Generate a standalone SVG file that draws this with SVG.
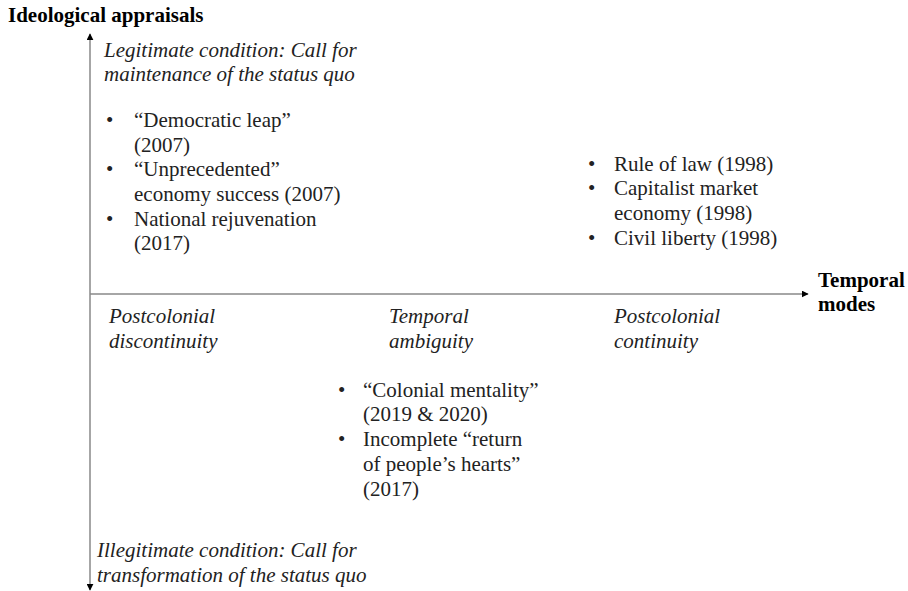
<svg xmlns="http://www.w3.org/2000/svg" width="908" height="591" viewBox="0 0 908 591">
<style>
text{font-family:'Liberation Serif','Times New Roman',serif;font-size:21px;fill:#222}
.b{font-weight:bold;fill:#000}
.i{font-style:italic}
.ax{stroke:#888;stroke-width:1.5;fill:none}
</style>
<defs>
<marker id="ah" viewBox="0 0 10 10" refX="9" refY="5" markerWidth="7" markerHeight="7" markerUnits="userSpaceOnUse" orient="auto">
<path d="M0,0 L10,5 L0,10 z" fill="#000"/>
</marker>
</defs>
<rect width="908" height="591" fill="#fff"/>
<g id="connectors">
<line class="ax" x1="90" y1="294" x2="90" y2="34" marker-end="url(#ah)"/>
<line class="ax" x1="90" y1="294" x2="90" y2="590" marker-end="url(#ah)"/>
<line class="ax" x1="90" y1="294" x2="808" y2="294" marker-end="url(#ah)"/>
</g>
<g id="y-axis-label"><text class="b" x="8" y="22">Ideological appraisals</text></g>
<g id="x-axis-label"><text class="b" x="818" y="287">Temporal</text><text class="b" x="818" y="311">modes</text></g>
<g id="legitimate"><text class="i" x="104" y="57">Legitimate condition: Call for</text><text class="i" x="104" y="81">maintenance of the status quo</text></g>
<g id="left-bullets">
<text x="106" y="127">•</text><text x="134" y="127">“Democratic leap”</text>
<text x="134" y="152">(2007)</text>
<text x="106" y="176">•</text><text x="134" y="176">“Unprecedented”</text>
<text x="134" y="201">economy success (2007)</text>
<text x="106" y="226">•</text><text x="134" y="226">National rejuvenation</text>
<text x="134" y="250">(2017)</text>
</g>
<g id="right-bullets">
<text x="588" y="171">•</text><text x="614" y="171">Rule of law (1998)</text>
<text x="588" y="195">•</text><text x="614" y="195">Capitalist market</text>
<text x="614" y="220">economy (1998)</text>
<text x="588" y="245">•</text><text x="614" y="245">Civil liberty (1998)</text>
</g>
<g id="discontinuity"><text class="i" x="109" y="323">Postcolonial</text><text class="i" x="109" y="348">discontinuity</text></g>
<g id="ambiguity"><text class="i" x="389" y="323">Temporal</text><text class="i" x="389" y="348">ambiguity</text></g>
<g id="continuity"><text class="i" x="614" y="323">Postcolonial</text><text class="i" x="614" y="348">continuity</text></g>
<g id="center-bullets">
<text x="338" y="397">•</text><text x="363" y="397">“Colonial mentality”</text>
<text x="363" y="421">(2019 &amp; 2020)</text>
<text x="338" y="446">•</text><text x="363" y="446">Incomplete “return</text>
<text x="363" y="471">of people’s hearts”</text>
<text x="363" y="496">(2017)</text>
</g>
<g id="illegitimate"><text class="i" x="97" y="557">Illegitimate condition: Call for</text><text class="i" x="97" y="582">transformation of the status quo</text></g>
</svg>
